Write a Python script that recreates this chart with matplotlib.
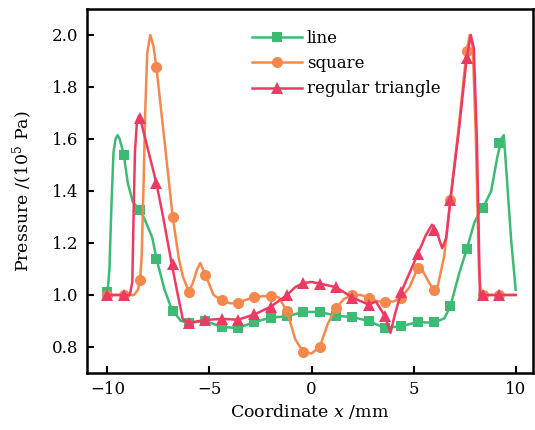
import matplotlib
matplotlib.use("Agg")
import matplotlib.pyplot as plt
from matplotlib.lines import Line2D

plt.rcParams['font.family'] = ['DejaVu Serif']
plt.rcParams['mathtext.fontset'] = 'dejavuserif'

# ---- data ----
marker_x = [-10.0, -9.2, -8.4, -7.6, -6.8, -6.0, -5.2, -4.4, -3.6, -2.8, -2.0, -1.2, -0.4,
            0.4, 1.2, 2.0, 2.8, 3.6, 4.4, 5.2, 6.0, 6.8, 7.6, 8.4, 9.2]

line_marker_y = [1.01, 1.54, 1.327, 1.14, 0.94, 0.893, 0.90, 0.877, 0.873, 0.896, 0.913, 0.918, 0.935,
                 0.935, 0.92, 0.915, 0.90, 0.873, 0.88, 0.896, 0.896, 0.956, 1.175, 1.335, 1.585]
square_marker_y = [1.0, 1.0, 1.058, 1.877, 1.30, 1.012, 1.077, 0.98, 0.97, 0.993, 0.997, 0.937, 0.78,
                   0.80, 0.95, 1.0, 0.99, 0.973, 0.99, 1.104, 1.018, 1.365, 1.94, 1.0, 1.0]
triangle_marker_y = [1.0, 1.0, 1.68, 1.43, 1.12, 0.893, 0.904, 0.908, 0.905, 0.925, 0.955, 1.0, 1.046,
                     1.044, 1.03, 0.99, 0.963, 0.918, 1.012, 1.157, 1.25, 1.365, 1.91, 1.0, 1.0]

line_curve_x = [-10.0, -9.9, -9.8, -9.7, -9.6, -9.5, -9.4, -9.3, -9.2, -9.0, -8.75, -8.4, -8.17, -7.8,
                -7.6, -7.2, -6.85, -6.4, -6.0, -5.2, -4.4, -3.6, -2.8, -2.0, -1.2, -0.4, 0.4, 1.2,
                2.0, 2.8, 3.6, 4.4, 5.2, 6.0, 6.5, 6.8, 7.24, 7.6, 7.97, 8.2, 8.4, 8.8, 9.1, 9.3,
                9.42, 9.55, 9.78, 10.0]
line_curve_y = [1.0, 1.1, 1.35, 1.55, 1.60, 1.615, 1.60, 1.57, 1.54, 1.43, 1.357, 1.327, 1.29, 1.22,
                1.14, 1.02, 0.945, 0.90, 0.893, 0.90, 0.877, 0.873, 0.896, 0.913, 0.918, 0.935, 0.935, 0.92,
                0.915, 0.90, 0.873, 0.88, 0.896, 0.893, 0.91, 0.956, 1.085, 1.175, 1.277, 1.315, 1.335, 1.40,
                1.53, 1.60, 1.615, 1.47, 1.21, 1.02]

square_curve_x = [-10.0, -8.7, -8.5, -8.4, -8.32, -8.22, -8.15, -8.05, -7.9, -7.75, -7.6, -7.2, -6.8,
                  -6.5, -6.3, -6.0, -5.8, -5.6, -5.45, -5.2, -4.8, -4.4, -4.0, -3.6, -2.8, -2.0, -1.6,
                  -1.2, -0.8, -0.4, 0.0, 0.4, 0.8, 1.2, 1.6, 2.0, 2.4, 2.8, 3.2, 3.6, 4.0, 4.4, 4.8,
                  5.2, 5.3, 5.6, 6.0, 6.2, 6.5, 6.8, 7.2, 7.6, 7.75, 7.9, 8.05, 8.2, 8.3, 8.4, 10.0]
square_curve_y = [1.0, 1.0, 1.02, 1.058, 1.15, 1.45, 1.70, 1.93, 2.0, 1.96, 1.877, 1.59, 1.30,
                  1.14, 1.07, 1.012, 1.05, 1.10, 1.123, 1.077, 1.0, 0.98, 0.968, 0.97, 0.993, 0.997, 0.99,
                  0.937, 0.83, 0.78, 0.775, 0.80, 0.89, 0.95, 0.985, 1.0, 1.0, 0.99, 0.976, 0.973, 0.975, 0.99, 1.03,
                  1.104, 1.115, 1.07, 1.015, 1.04, 1.15, 1.365, 1.64, 1.94, 2.0, 1.95, 1.6, 1.1, 1.0, 1.0, 1.0]

triangle_curve_x = [-10.0, -9.2, -8.9, -8.78, -8.72, -8.65, -8.55, -8.45, -8.4, -8.3, -7.6, -7.27, -6.85,
                    -6.6, -6.3, -6.0, -5.2, -4.4, -3.6, -2.8, -2.0, -1.2, -0.8, -0.4, 0.0, 0.4, 1.2, 2.0,
                    2.8, 3.15, 3.6, 3.87, 4.1, 4.4, 5.2, 5.6, 5.9, 6.1, 6.4, 6.6, 6.8, 7.2, 7.6, 7.8,
                    7.95, 8.1, 8.2, 8.25, 8.4, 9.2, 10.0]
triangle_curve_y = [1.0, 1.0, 1.0, 1.05, 1.3, 1.55, 1.67, 1.69, 1.68, 1.65, 1.43, 1.30, 1.12,
                    1.02, 0.904, 0.893, 0.904, 0.908, 0.905, 0.925, 0.955, 1.0, 1.03, 1.046, 1.05, 1.044, 1.03, 0.99,
                    0.963, 0.975, 0.918, 0.855, 0.93, 1.012, 1.157, 1.23, 1.27, 1.25, 1.18, 1.22, 1.365, 1.62, 1.91, 2.0,
                    1.95, 1.6, 1.2, 1.0, 1.0, 1.0, 1.0]

labels = ["line", "square", "regular triangle"]
x_ticks = [-10, -5, 0, 5, 10]
x_tick_labels = ["\u221210", "\u22125", "0", "5", "10"]
y_ticks = [0.8, 1.0, 1.2, 1.4, 1.6, 1.8, 2.0]

green = "#3dba74"
orange = "#f5894d"
red = "#ec3b62"

fig = plt.figure(figsize=(5.35, 4.30), dpi=100)
ax = fig.add_axes([0.1626, 0.1326, 0.8337, 0.8465])

series = [
    (line_curve_x, line_curve_y, line_marker_y, green, 's', 7.0),
    (square_curve_x, square_curve_y, square_marker_y, orange, 'o', 8.0),
    (triangle_curve_x, triangle_curve_y, triangle_marker_y, red, '^', 9.0),
]
handles = []
for i, (cx, cy, my, col, mk, ms) in enumerate(series):
    ax.plot(cx, cy, color=col, lw=1.8, zorder=2 + i, solid_joinstyle='round')
    ax.plot(marker_x, my, linestyle='none', marker=mk, ms=ms, color=col,
            markeredgewidth=0, zorder=2 + i)
    handles.append(Line2D([], [], color=col, lw=1.8, marker=mk, ms=ms, markeredgewidth=0))

ax.set_xlim(-11, 10.85)
ax.set_ylim(0.7, 2.1)
ax.set_xticks(x_ticks)
ax.set_xticklabels(x_tick_labels)
ax.set_yticks(y_ticks)
ax.set_yticklabels([f"{v:.1f}" for v in y_ticks])
ax.tick_params(direction='in', length=5, width=1.5, labelsize=12, pad=6)
for s in ax.spines.values():
    s.set_linewidth(1.8)

ax.set_xlabel("Coordinate $x$ /mm", fontsize=12.5, labelpad=3)
ax.set_ylabel("Pressure /(10$^5$ Pa)", fontsize=12.5, labelpad=12)

leg = ax.legend(handles, labels, loc='upper left', bbox_to_anchor=(0.343, 0.975),
                frameon=False, fontsize=12, handlelength=3.0, handletextpad=0.3,
                labelspacing=0.5, borderpad=0.2)

fig.savefig("out.png", dpi=100)
